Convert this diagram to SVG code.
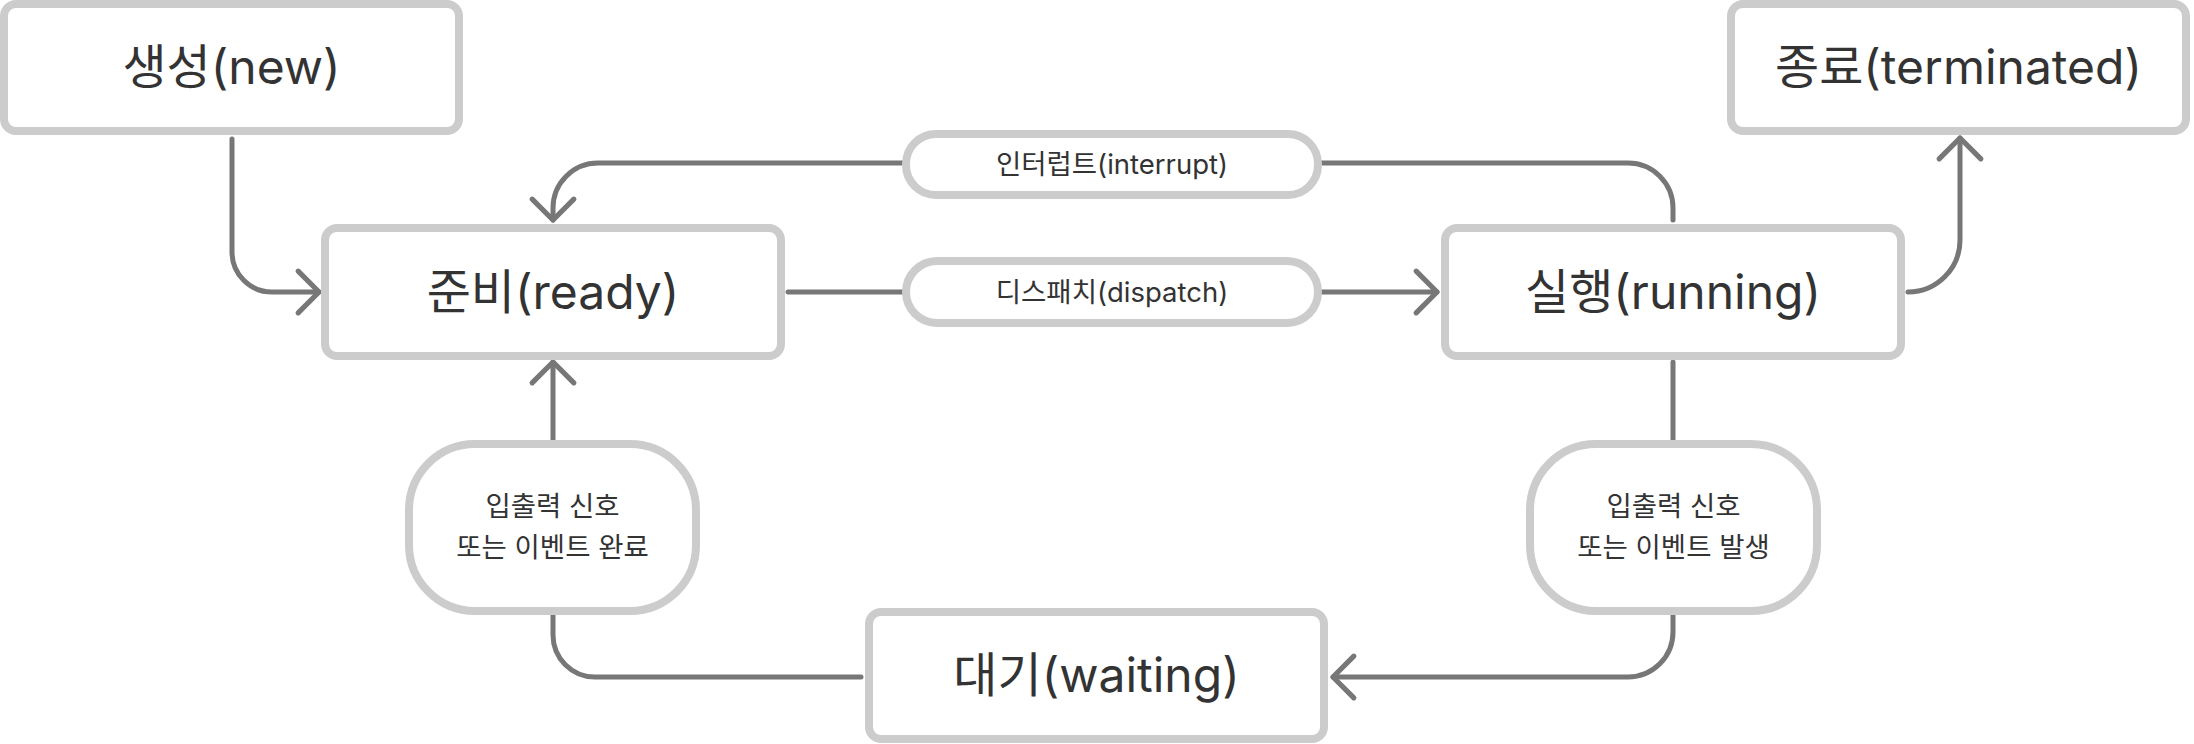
<svg xmlns="http://www.w3.org/2000/svg" width="2194" height="744" viewBox="0 0 2194 744">
  <style>
    .node { fill: #ffffff; stroke: #cccccc; stroke-width: 8; }
    .edge { fill: none; stroke: #777777; stroke-width: 5; stroke-linecap: round; stroke-linejoin: round; }
    .big { font-family: "Inter", "Noto Sans CJK KR", sans-serif; font-size: 48px; fill: #333333; text-anchor: middle; }
    .small { font-family: "Inter", "Noto Sans CJK KR", sans-serif; font-size: 27.5px; fill: #333333; text-anchor: middle; }
  </style>
  <defs>
    <marker id="arrow" markerUnits="userSpaceOnUse" markerWidth="40" markerHeight="50" viewBox="-24 -24 30 48" refX="0" refY="0" orient="auto">
      <path d="M-20,-20 L0,0 L-20,20" fill="none" stroke="#777777" stroke-width="5" stroke-linecap="round" stroke-linejoin="round"/>
    </marker>
  </defs>
  <rect width="2194" height="744" fill="#ffffff"/>

  <g id="connectors">
    <path class="edge" d="M232 139 V252 A40 40 0 0 0 272 292 H319" marker-end="url(#arrow)"/>
    <path class="edge" d="M1673 220 V208 A45 45 0 0 0 1628 163 H598 A45 45 0 0 0 553 208 V220" marker-end="url(#arrow)"/>
    <path class="edge" d="M788 292 H1437" marker-end="url(#arrow)"/>
    <path class="edge" d="M1908 292 A52 52 0 0 0 1960 240 V138" marker-end="url(#arrow)"/>
    <path class="edge" d="M1673 362 V444"/>
    <path class="edge" d="M1673 611 V632 A45 45 0 0 1 1628 677 H1333" marker-end="url(#arrow)"/>
    <path class="edge" d="M861 677 H595 A42 42 0 0 1 553 635 V611"/>
    <path class="edge" d="M553 444 V362" marker-end="url(#arrow)"/>
  </g>

  <g id="node-new">
    <rect class="node" x="4" y="4" width="455" height="127" rx="12"/>
    <text class="big" x="231.5" y="84">생성(new)</text>
  </g>
  <g id="node-terminated">
    <rect class="node" x="1731" y="4" width="455" height="127" rx="12"/>
    <text class="big" x="1958.5" y="84">종료(terminated)</text>
  </g>
  <g id="node-ready">
    <rect class="node" x="325" y="228" width="456" height="128" rx="12"/>
    <text class="big" x="553" y="309">준비(ready)</text>
  </g>
  <g id="node-running">
    <rect class="node" x="1445" y="228" width="456" height="128" rx="12"/>
    <text class="big" x="1673" y="309">실행(running)</text>
  </g>
  <g id="node-waiting">
    <rect class="node" x="869" y="612" width="455" height="127" rx="12"/>
    <text class="big" x="1096.5" y="692">대기(waiting)</text>
  </g>
  <g id="label-interrupt">
    <rect class="node" x="906" y="134" width="412" height="61" rx="30"/>
    <text class="small" x="1112" y="174">인터럽트(interrupt)</text>
  </g>
  <g id="label-dispatch">
    <rect class="node" x="906" y="261" width="412" height="62" rx="31"/>
    <text class="small" x="1112" y="302">디스패치(dispatch)</text>
  </g>
  <g id="label-io-complete">
    <rect class="node" x="409" y="444" width="287" height="167" rx="66"/>
    <text class="small" x="552.5" y="516">입출력 신호</text>
    <text class="small" x="552.5" y="557">또는 이벤트 완료</text>
  </g>
  <g id="label-io-occur">
    <rect class="node" x="1530" y="444" width="287" height="167" rx="66"/>
    <text class="small" x="1673.5" y="516">입출력 신호</text>
    <text class="small" x="1673.5" y="557">또는 이벤트 발생</text>
  </g>
</svg>
